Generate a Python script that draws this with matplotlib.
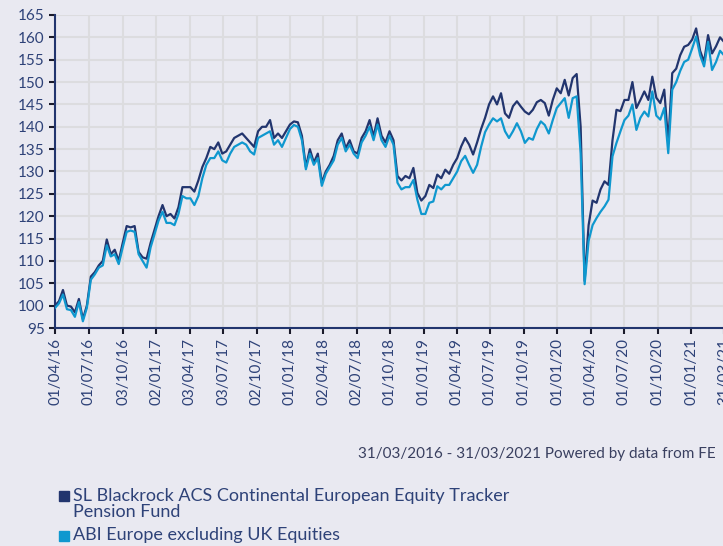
import matplotlib
matplotlib.use("Agg")
import matplotlib.pyplot as plt
from matplotlib.patches import Rectangle
import pandas as pd

# roughly every 11 days from 31/03/2016 to 31/03/2021
dates = pd.date_range("2016-03-31", "2021-03-31", periods=169)

fund = [100, 101, 103.5, 100, 99.8, 98.5, 101.5, 97, 100, 106.5,
        107.5, 109, 110, 114.8, 111.5, 112.5, 110, 114, 117.8, 117.5,
        117.8, 112, 110.8, 110.5, 114, 117, 120, 122.5, 120, 120.5,
        119.5, 122, 126.5, 126.5, 126.5, 125.5, 128, 131, 133, 135.5,
        135, 136.5, 134, 134.5, 136, 137.5, 138, 138.5, 137.5, 136.5,
        135.5, 139, 140, 140, 141.5, 137.5, 138.5, 137.5, 139, 140.5,
        141.2, 141, 138, 131, 135, 132, 134, 127.5, 130, 131.5,
        133.5, 137, 138.5, 135.2, 137, 134.5, 134, 137.5, 139, 141.5,
        137.8, 141.9, 138, 136.5, 139, 137, 129, 128, 129, 128.5,
        130.8, 125.2, 123.5, 124.5, 127, 126.3, 129.3, 128.5, 130.4, 129.5,
        131.5, 133, 135.6, 137.5, 136, 133.8, 136.5, 139.5, 142, 145,
        146.8, 145, 147.5, 143, 142, 144.6, 145.7, 144.5, 143.4, 142.8,
        143.8, 145.5, 146, 145.3, 142.5, 146, 148.6, 147.5, 150.5, 147,
        150.9, 151.8, 140, 105.5, 118, 123.5, 123, 126, 127.8, 127,
        137, 143.8, 143.5, 146, 146, 150, 144.2, 146, 147.9, 146,
        151.2, 146.5, 145.3, 148.3, 136.4, 152, 153, 156, 157.9, 158.3,
        159.5, 162, 157, 154.5, 160.5, 156.4, 158, 160, 159]

sector = [99.5, 100.5, 102.5, 99.2, 99, 97.5, 100.8, 96.5, 99.5, 105.8,
          107, 108.5, 109, 113.5, 111, 111.5, 109.3, 113, 116.5, 116.8,
          116.5, 111.5, 110, 108.5, 113, 116, 119, 121, 118.5, 118.5,
          118, 120.5, 124.5, 124, 124, 122.5, 124.5, 128.5, 131.5, 133,
          133, 134.5, 132.5, 132, 134, 135.5, 136, 136.5, 136, 134.5,
          133.8, 137.5, 138, 138.5, 139, 136, 137, 135.5, 137.5, 139.5,
          140.4, 140, 137, 130.5, 134, 131.5, 133, 126.8, 129.5, 131,
          132.5, 136, 137.5, 134.5, 136, 134, 133, 136.5, 138, 140,
          137, 140.5, 137, 135.5, 138, 136, 127.5, 126, 126.5, 126.5,
          128.1, 123.7, 120.5, 120.5, 123, 123.3, 126.7, 126, 127, 127,
          128.5, 130, 132.3, 133.5, 131.5, 129.7, 131.5, 135.5, 138.8, 140.5,
          141.9, 141.2, 141.9, 139, 137.5, 139, 140.8, 139, 136.4, 137.5,
          137.1, 139.5, 141.2, 140.4, 138.5, 141.5, 144.2, 145.3, 146.4, 142,
          146.4, 146.8, 134, 104.8, 114.5, 118, 119.6, 121, 122.2, 123.7,
          133.4, 136.4, 139, 141.5, 142.5, 145, 139.3, 142, 143.4, 142.3,
          147.9, 142.5, 141.6, 144.2, 134.1, 148.3, 150, 152.5, 154.5, 155,
          157.5, 160.2, 156, 153.5, 159, 152.7, 154.5, 157, 156]

tick_dates = ["2016-04-01", "2016-07-01", "2016-10-03", "2017-01-02", "2017-04-03",
              "2017-07-03", "2017-10-02", "2018-01-01", "2018-04-02", "2018-07-02",
              "2018-10-01", "2019-01-01", "2019-04-01", "2019-07-01", "2019-10-01",
              "2020-01-01", "2020-04-01", "2020-07-01", "2020-10-01", "2021-01-01",
              "2021-03-31"]
tick_labels = ["01/04/16", "01/07/16", "03/10/16", "02/01/17", "03/04/17",
               "03/07/17", "02/10/17", "01/01/18", "02/04/18", "02/07/18",
               "01/10/18", "01/01/19", "01/04/19", "01/07/19", "01/10/19",
               "01/01/20", "01/04/20", "01/07/20", "01/10/20", "01/01/21",
               "31/03/21"]

series_names = ["SL Blackrock ACS Continental European Equity Tracker\nPension Fund",
                "ABI Europe excluding UK Equities"]

bg = "#e9e9f1"
navy = "#22356e"
cyan = "#0f98cf"
label_col = "#2e4278"

plt.rcParams["font.family"] = ["Lato", "DejaVu Sans"]

fig = plt.figure(figsize=(7.23, 5.46), dpi=100, facecolor=bg)
ax = fig.add_axes([55 / 723, 218 / 546, 669 / 723, 313 / 546], facecolor=bg)

ax.plot(dates, fund, color=navy, lw=1.6, zorder=3)
ax.plot(dates, sector, color=cyan, lw=1.6, zorder=4)

ax.set_ylim(95, 165)
ax.set_yticks(range(95, 166, 5))
ax.set_xlim(pd.Timestamp("2016-03-31"), pd.Timestamp("2021-03-31"))
ax.set_xticks(pd.to_datetime(tick_dates))
ax.set_xticklabels(tick_labels, rotation=90)

ax.grid(True, color="#dcdcdf", lw=1.5, zorder=0)
ax.set_axisbelow(True)
for s in ["top", "right"]:
    ax.spines[s].set_visible(False)
for s in ["left", "bottom"]:
    ax.spines[s].set_color(navy)
    ax.spines[s].set_linewidth(1.5)
ax.tick_params(axis="both", colors="#1a1a2a", length=4, width=1.5,
               labelcolor=label_col, labelsize=11)
ax.tick_params(axis="x", pad=3)

fig.text(716 / 723, 1 - 458 / 546, "31/03/2016 - 31/03/2021 Powered by data from FE",
         ha="right", va="baseline", fontsize=11, color="#3a4060")

# legend drawn by hand: square + label
squares = [496, 536]
text_tops = [488, 527]
for col, name, yc, yt in zip([navy, cyan], series_names, squares, text_tops):
    fig.add_artist(Rectangle((59 / 723, 1 - (yc + 5) / 546), 10 / 723, 10 / 546,
                             transform=fig.transFigure, color=col))
    fig.text(73 / 723, 1 - yt / 546, name, ha="left", va="top",
             fontsize=13, color=label_col, linespacing=1.0)

fig.savefig("out.png", dpi=100, facecolor=bg)
